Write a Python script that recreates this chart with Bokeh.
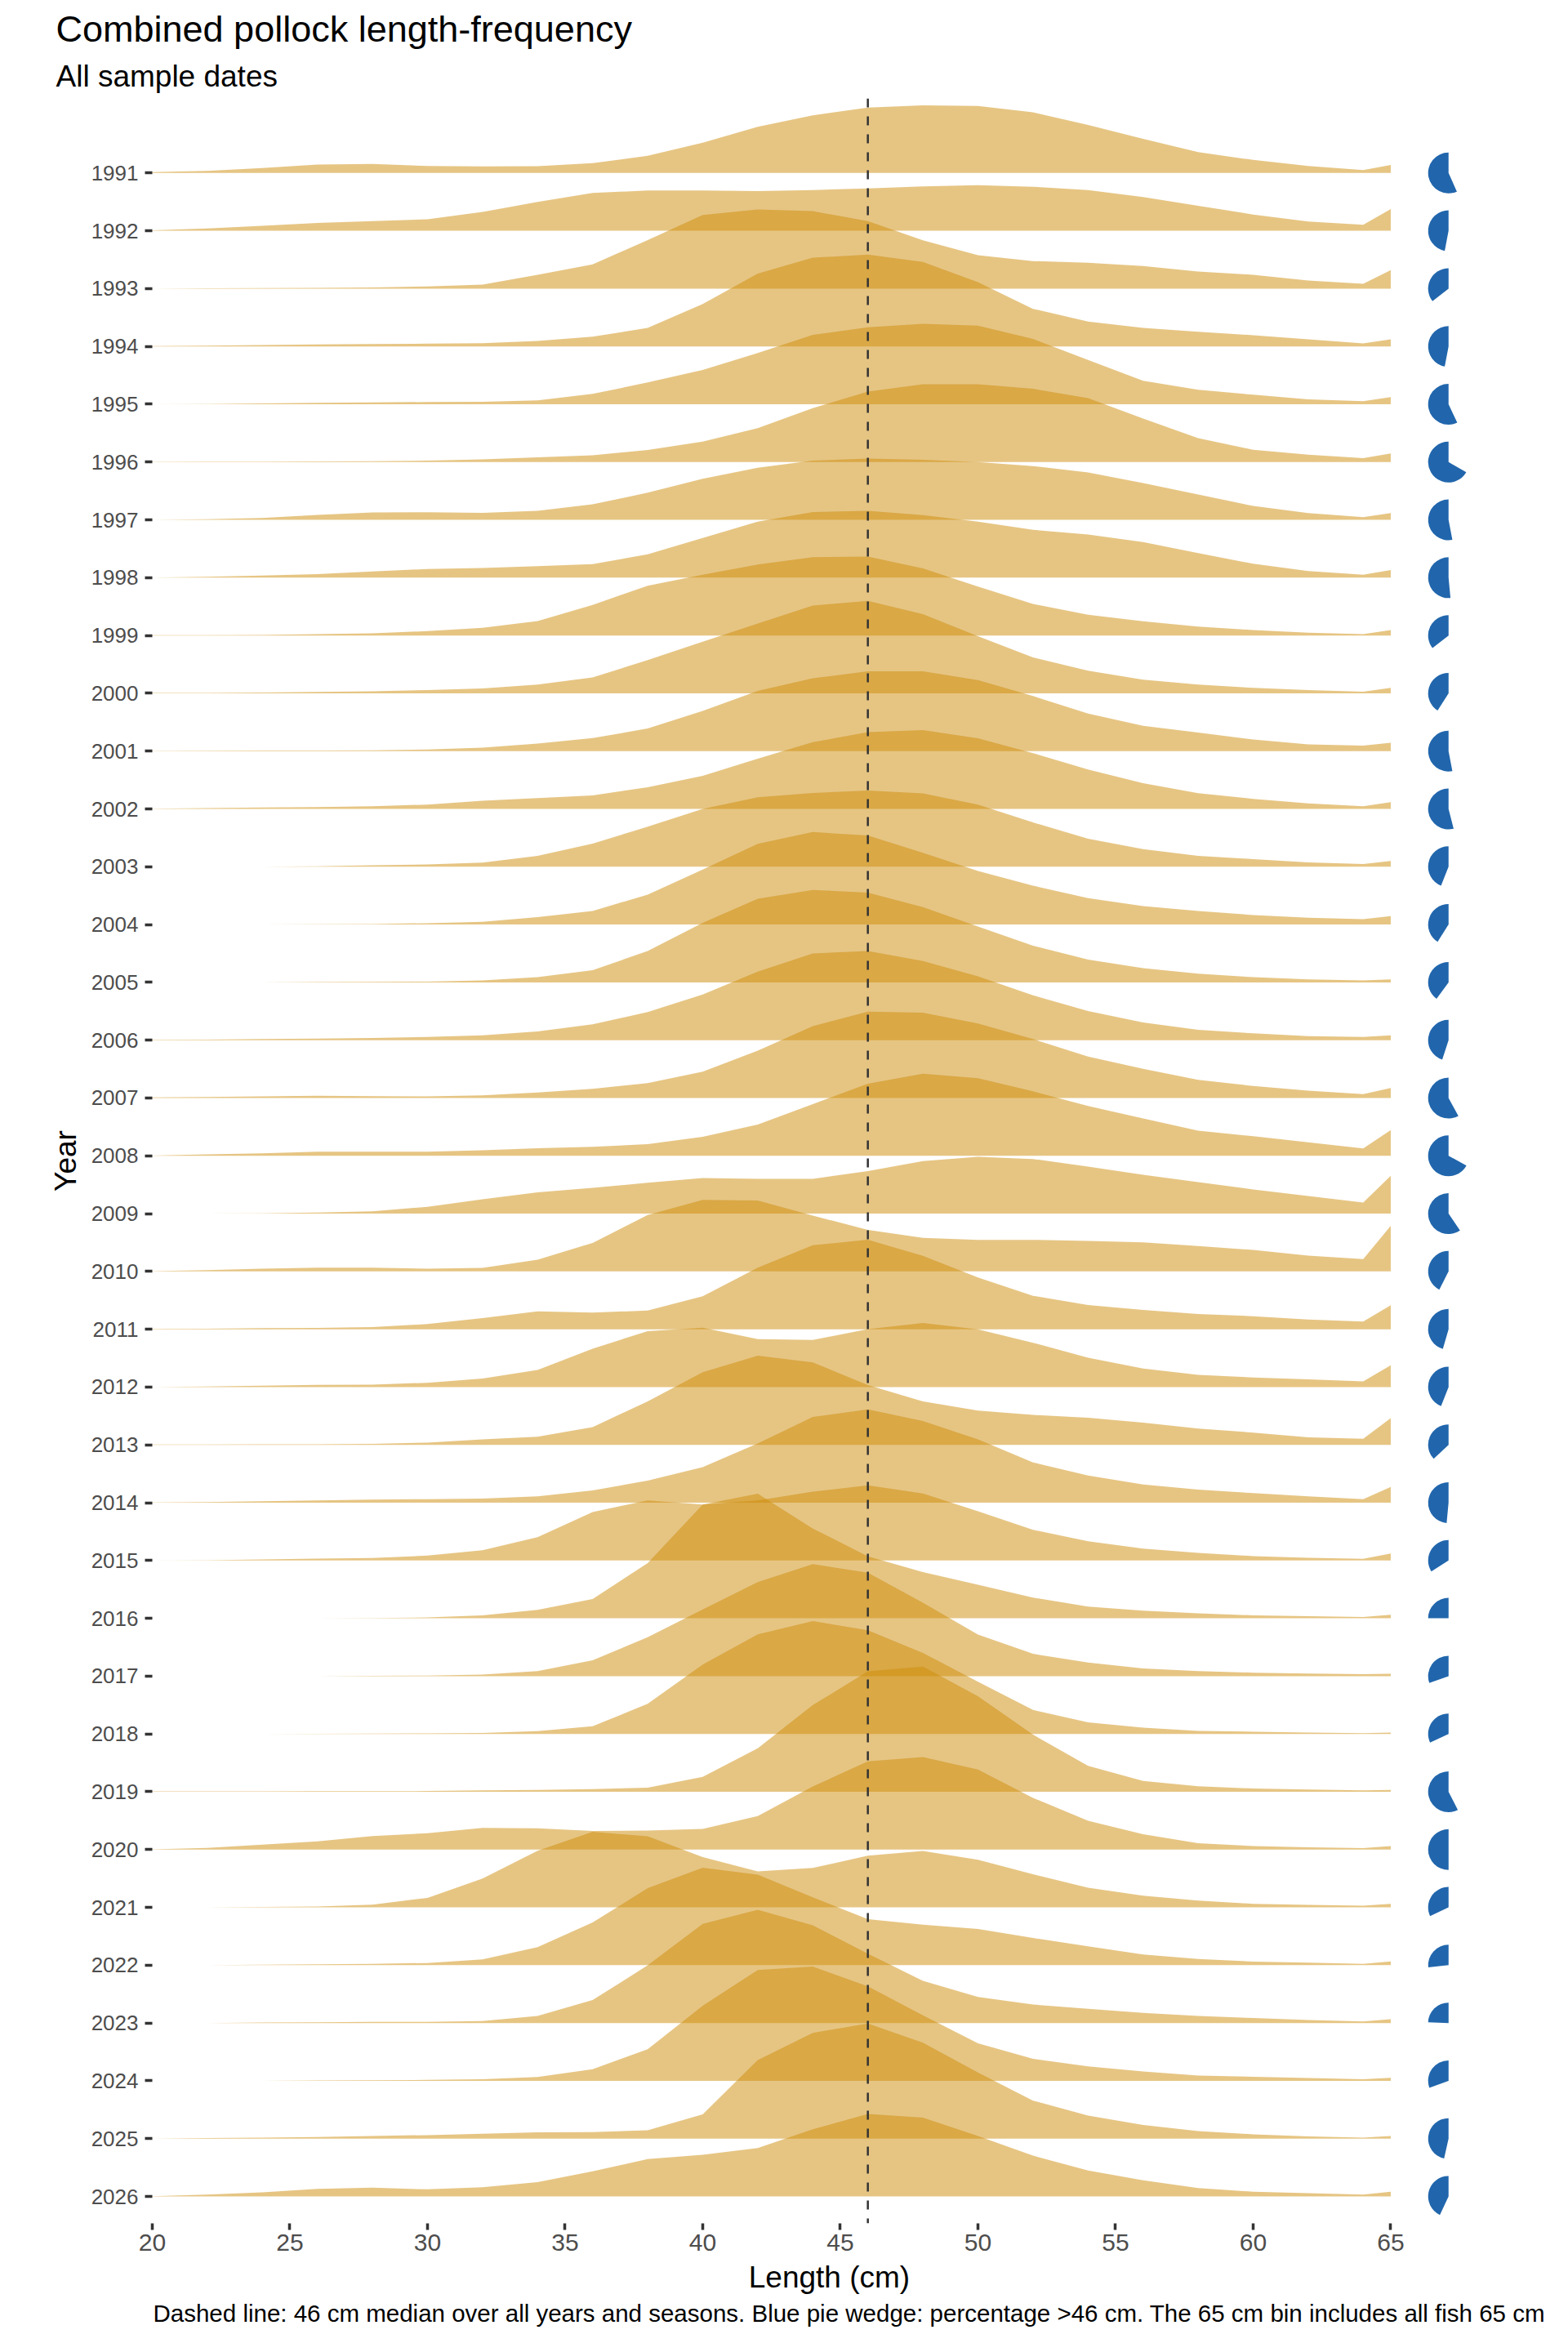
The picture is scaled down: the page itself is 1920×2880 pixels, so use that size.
import numpy as np
from bokeh.plotting import figure
from bokeh.models import Range1d, FixedTicker, Span, Title
from bokeh.embed import file_html
from bokeh.resources import INLINE

# Length bins (cm); the 65 cm bin includes all fish >= 65 cm
lengths = [20, 22, 24, 26, 28, 30, 32, 34, 36, 38, 40, 42, 44, 46, 48, 50, 52, 54, 56, 58, 60, 62, 64, 65]
years = list(range(1991, 2027))

# Ridge heights (scaled density, in row units) for each year
h1991 = [0.014, 0.038, 0.085, 0.146, 0.155, 0.122, 0.113, 0.118, 0.169, 0.296, 0.522, 0.80, 0.998, 1.13, 1.17, 1.16, 1.05, 0.83, 0.59, 0.36, 0.226, 0.122, 0.052, 0.14]
h1992 = [0.01, 0.042, 0.085, 0.136, 0.169, 0.198, 0.325, 0.50, 0.654, 0.696, 0.696, 0.687, 0.706, 0.734, 0.767, 0.79, 0.762, 0.706, 0.584, 0.433, 0.282, 0.16, 0.104, 0.377]
h1993 = [0.0, 0.005, 0.009, 0.014, 0.019, 0.038, 0.071, 0.24, 0.42, 0.838, 1.275, 1.369, 1.34, 1.167, 0.835, 0.579, 0.476, 0.447, 0.39, 0.296, 0.24, 0.141, 0.085, 0.32]
h1994 = [0.005, 0.014, 0.024, 0.033, 0.042, 0.047, 0.056, 0.094, 0.169, 0.32, 0.734, 1.261, 1.534, 1.59, 1.46, 1.11, 0.65, 0.43, 0.32, 0.254, 0.193, 0.122, 0.052, 0.122]
h1995 = [0.0, 0.005, 0.014, 0.024, 0.033, 0.038, 0.042, 0.066, 0.179, 0.376, 0.593, 0.885, 1.2, 1.33, 1.39, 1.36, 1.129, 0.767, 0.405, 0.249, 0.165, 0.085, 0.052, 0.122]
h1996 = [0.005, 0.007, 0.009, 0.012, 0.014, 0.024, 0.047, 0.08, 0.118, 0.207, 0.353, 0.588, 0.932, 1.22, 1.346, 1.346, 1.267, 1.106, 0.753, 0.414, 0.212, 0.127, 0.066, 0.15]
h1997 = [0.0, 0.01, 0.033, 0.085, 0.127, 0.132, 0.122, 0.155, 0.268, 0.47, 0.71, 0.90, 1.026, 1.059, 1.04, 1.0, 0.93, 0.82, 0.635, 0.44, 0.24, 0.118, 0.047, 0.118]
h1998 = [0.0, 0.014, 0.038, 0.061, 0.108, 0.15, 0.169, 0.198, 0.235, 0.405, 0.687, 0.969, 1.134, 1.158, 1.082, 0.969, 0.828, 0.748, 0.616, 0.424, 0.24, 0.113, 0.052, 0.132]
h1999 = [0.005, 0.007, 0.01, 0.024, 0.038, 0.075, 0.132, 0.25, 0.53, 0.86, 1.051, 1.226, 1.355, 1.365, 1.16, 0.847, 0.546, 0.358, 0.245, 0.155, 0.094, 0.047, 0.024, 0.094]
h2000 = [0.005, 0.007, 0.014, 0.024, 0.033, 0.056, 0.085, 0.15, 0.273, 0.576, 0.894, 1.207, 1.518, 1.60, 1.369, 0.988, 0.621, 0.391, 0.235, 0.15, 0.094, 0.056, 0.028, 0.094]
h2001 = [0.005, 0.007, 0.01, 0.012, 0.014, 0.028, 0.061, 0.132, 0.226, 0.39, 0.696, 1.04, 1.261, 1.379, 1.379, 1.228, 0.953, 0.649, 0.438, 0.32, 0.202, 0.118, 0.094, 0.146]
h2002 = [0.005, 0.014, 0.024, 0.033, 0.047, 0.075, 0.141, 0.188, 0.235, 0.376, 0.574, 0.868, 1.155, 1.327, 1.365, 1.224, 0.965, 0.682, 0.447, 0.273, 0.174, 0.094, 0.047, 0.118]
h2003 = [0.0, 0.0, 0.002, 0.007, 0.024, 0.038, 0.071, 0.188, 0.40, 0.692, 1.0, 1.20, 1.275, 1.318, 1.27, 1.073, 0.767, 0.485, 0.306, 0.188, 0.132, 0.075, 0.047, 0.099]
h2004 = [0.0, 0.0, 0.0, 0.005, 0.01, 0.024, 0.047, 0.127, 0.235, 0.518, 0.95, 1.398, 1.60, 1.54, 1.24, 0.927, 0.673, 0.456, 0.32, 0.235, 0.165, 0.118, 0.094, 0.146]
h2005 = [0.0, 0.0, 0.0, 0.005, 0.01, 0.014, 0.033, 0.089, 0.212, 0.541, 1.03, 1.445, 1.60, 1.553, 1.303, 0.965, 0.635, 0.395, 0.245, 0.15, 0.089, 0.052, 0.033, 0.052]
h2006 = [0.005, 0.01, 0.019, 0.028, 0.038, 0.056, 0.085, 0.15, 0.273, 0.485, 0.791, 1.186, 1.50, 1.544, 1.37, 1.106, 0.777, 0.503, 0.306, 0.179, 0.118, 0.071, 0.056, 0.085]
h2007 = [0.01, 0.019, 0.028, 0.038, 0.033, 0.028, 0.047, 0.094, 0.16, 0.259, 0.456, 0.819, 1.242, 1.492, 1.477, 1.29, 1.02, 0.715, 0.504, 0.315, 0.207, 0.127, 0.066, 0.174]
h2008 = [0.005, 0.024, 0.042, 0.071, 0.071, 0.071, 0.094, 0.132, 0.155, 0.20, 0.329, 0.541, 0.894, 1.247, 1.421, 1.341, 1.115, 0.861, 0.645, 0.433, 0.339, 0.235, 0.127, 0.447]
h2009 = [0.0, 0.0, 0.005, 0.019, 0.038, 0.118, 0.249, 0.367, 0.447, 0.533, 0.616, 0.60, 0.602, 0.734, 0.908, 0.983, 0.945, 0.814, 0.673, 0.546, 0.419, 0.306, 0.193, 0.654]
h2010 = [0.005, 0.024, 0.047, 0.066, 0.066, 0.047, 0.061, 0.202, 0.494, 0.977, 1.238, 1.228, 0.965, 0.72, 0.579, 0.546, 0.546, 0.527, 0.504, 0.438, 0.372, 0.273, 0.212, 0.79]
h2011 = [0.005, 0.01, 0.019, 0.024, 0.038, 0.089, 0.193, 0.311, 0.287, 0.325, 0.57, 1.064, 1.454, 1.548, 1.27, 0.894, 0.579, 0.42, 0.334, 0.264, 0.226, 0.169, 0.132, 0.414]
h2012 = [0.0, 0.009, 0.024, 0.038, 0.042, 0.075, 0.146, 0.296, 0.664, 0.967, 1.026, 0.828, 0.814, 1.002, 1.107, 0.998, 0.767, 0.508, 0.32, 0.212, 0.165, 0.132, 0.099, 0.376]
h2013 = [0.005, 0.005, 0.009, 0.012, 0.019, 0.038, 0.094, 0.141, 0.306, 0.753, 1.256, 1.543, 1.426, 1.035, 0.753, 0.593, 0.518, 0.471, 0.386, 0.282, 0.212, 0.132, 0.104, 0.461]
h2014 = [0.005, 0.01, 0.024, 0.038, 0.052, 0.061, 0.071, 0.108, 0.212, 0.381, 0.616, 1.026, 1.482, 1.614, 1.412, 1.096, 0.697, 0.471, 0.315, 0.226, 0.165, 0.108, 0.061, 0.273]
h2015 = [0.0, 0.005, 0.019, 0.033, 0.042, 0.085, 0.179, 0.405, 0.838, 1.04, 0.969, 1.04, 1.19, 1.30, 1.158, 0.852, 0.532, 0.334, 0.207, 0.132, 0.075, 0.047, 0.028, 0.122]
h2016 = [0.0, 0.0, 0.0, 0.0, 0.005, 0.014, 0.052, 0.146, 0.334, 0.955, 1.967, 2.155, 1.553, 1.073, 0.80, 0.579, 0.358, 0.202, 0.132, 0.085, 0.052, 0.038, 0.024, 0.061]
h2017 = [0.0, 0.0, 0.0, 0.0, 0.005, 0.009, 0.028, 0.085, 0.273, 0.673, 1.153, 1.628, 1.939, 1.788, 1.271, 0.72, 0.386, 0.235, 0.132, 0.085, 0.06, 0.045, 0.035, 0.04]
h2018 = [0.0, 0.0, 0.0, 0.002, 0.005, 0.009, 0.016, 0.047, 0.132, 0.52, 1.20, 1.722, 1.953, 1.793, 1.402, 0.904, 0.414, 0.20, 0.108, 0.052, 0.038, 0.024, 0.014, 0.024]
h2019 = [0.005, 0.005, 0.007, 0.009, 0.01, 0.012, 0.024, 0.033, 0.047, 0.071, 0.259, 0.753, 1.499, 2.084, 2.165, 1.652, 0.988, 0.447, 0.188, 0.094, 0.056, 0.038, 0.024, 0.033]
h2020 = [0.005, 0.028, 0.085, 0.141, 0.235, 0.282, 0.376, 0.367, 0.32, 0.329, 0.358, 0.579, 1.092, 1.525, 1.60, 1.384, 0.894, 0.499, 0.264, 0.108, 0.061, 0.038, 0.024, 0.061]
h2021 = [0.0, 0.0, 0.009, 0.014, 0.047, 0.165, 0.499, 0.979, 1.308, 1.228, 0.868, 0.622, 0.682, 0.894, 0.974, 0.823, 0.574, 0.339, 0.202, 0.118, 0.061, 0.042, 0.028, 0.061]
h2022 = [0.0, 0.0, 0.007, 0.014, 0.024, 0.038, 0.099, 0.311, 0.739, 1.331, 1.685, 1.567, 1.173, 0.795, 0.701, 0.626, 0.47, 0.325, 0.184, 0.108, 0.061, 0.042, 0.024, 0.066]
h2023 = [0.0, 0.0, 0.009, 0.012, 0.02, 0.019, 0.033, 0.122, 0.396, 0.998, 1.713, 1.96, 1.69, 1.20, 0.729, 0.452, 0.32, 0.245, 0.174, 0.122, 0.085, 0.052, 0.028, 0.066]
h2024 = [0.0, 0.0, 0.0, 0.005, 0.009, 0.016, 0.028, 0.066, 0.202, 0.546, 1.299, 1.917, 1.976, 1.633, 1.134, 0.649, 0.381, 0.25, 0.16, 0.09, 0.07, 0.05, 0.028, 0.052]
h2025 = [0.0, 0.01, 0.019, 0.028, 0.047, 0.061, 0.085, 0.108, 0.113, 0.146, 0.42, 1.36, 1.83, 1.99, 1.658, 1.144, 0.658, 0.40, 0.235, 0.132, 0.075, 0.038, 0.019, 0.047]
h2026 = [0.005, 0.033, 0.071, 0.132, 0.151, 0.122, 0.16, 0.249, 0.433, 0.647, 0.72, 0.838, 1.162, 1.426, 1.365, 1.045, 0.706, 0.447, 0.28, 0.146, 0.08, 0.056, 0.033, 0.08]

# Percentage of fish > 46 cm per year (blue pie wedge)
pct_over_46 = [56.7, 47, 35.6, 47, 57, 66.7, 53, 51.5, 35.6, 41, 53, 54, 44, 41, 40, 45, 58, 67,
               59.5, 42.5, 45.5, 44, 37, 48.5, 34, 25, 30.5, 32, 57.5, 50, 32, 26.7, 24.5, 30.5, 46.5, 43]

median_len = 46
x_ticks = [20, 25, 30, 35, 40, 45, 50, 55, 60, 65]

ridges = [h1991, h1992, h1993, h1994, h1995, h1996, h1997, h1998, h1999, h2000, h2001, h2002,
          h2003, h2004, h2005, h2006, h2007, h2008, h2009, h2010, h2011, h2012, h2013, h2014,
          h2015, h2016, h2017, h2018, h2019, h2020, h2021, h2022, h2023, h2024, h2025, h2026]

FONT = "Liberation Sans"
FILL = "#CD8B07"
X_MIN, X_MAX = 20, 69.2
PX_PER_CM = 33.7
FW = int(round((X_MAX - X_MIN) * PX_PER_CM))
FH = 2602
LEFT = 186
TOTAL_W = 1904
n = len(years)

p = figure(frame_width=FW, frame_height=FH,
           x_range=Range1d(X_MIN, X_MAX), y_range=Range1d(-0.466, n - 1 + 1.29),
           output_backend="svg", toolbar_location=None, title=None,
           min_border_left=LEFT, min_border_right=TOTAL_W - LEFT - FW, min_border_top=120,
           min_border_bottom=10)
p.background_fill_color = "white"
p.border_fill_color = "white"
p.outline_line_color = None
p.grid.visible = False

x = np.array(lengths, dtype=float)
for k, (yr, h) in enumerate(zip(years, ridges)):
    base = float(n - 1 - k)
    hh = np.array(h, dtype=float)
    p.varea(x=x, y1=np.full_like(x, base), y2=base + hh, fill_color=FILL, fill_alpha=0.5)

# median line
p.add_layout(Span(location=median_len, dimension="height", line_color="#333333",
                  line_dash="11 11", line_width=2.5))

# pie wedges
ybase = [float(n - 1 - k) for k in range(n)]
ends = [np.pi / 2 + 2 * np.pi * v / 100.0 for v in pct_over_46]
p.wedge(x=[67.1] * n, y=ybase, radius=25, radius_units="screen",
        start_angle=[np.pi / 2] * n, end_angle=ends, direction="anticlock",
        fill_color="#2166AC", line_color=None)

# axes
p.xaxis.ticker = FixedTicker(ticks=x_ticks)
p.xaxis.axis_label = "Length (cm)"
p.yaxis.ticker = FixedTicker(ticks=list(range(n)))
p.yaxis.major_label_overrides = {n - 1 - k: str(yr) for k, yr in enumerate(years)}
p.yaxis.axis_label = "Year"
for ax in (p.xaxis[0], p.yaxis[0]):
    ax.axis_line_color = None
    ax.major_tick_in = 0
    ax.minor_tick_line_color = None
    ax.major_tick_line_color = "#333333"
    ax.major_tick_line_width = 3.5
    ax.major_label_text_font = FONT
    ax.major_label_text_color = "#4D4D4D"
    ax.axis_label_text_font = FONT
    ax.axis_label_text_font_style = "normal"
    ax.axis_label_text_color = "black"
    ax.axis_label_text_font_size = "37px"
p.xaxis.major_tick_out = 8
p.xaxis.major_label_text_font_size = "30px"
p.xaxis.major_label_standoff = 5
p.xaxis.axis_label_standoff = 9
p.yaxis.major_tick_out = 9
p.yaxis.major_label_text_font_size = "26px"
p.yaxis.major_label_standoff = 8
p.yaxis.axis_label_standoff = 8

# titles and caption
p.add_layout(Title(text="All sample dates", align="left", offset=-118, standoff=14,
                   text_font=FONT, text_font_size="37px", text_font_style="normal",
                   text_color="black"), "above")
p.add_layout(Title(text="Combined pollock length-frequency", align="left", offset=-118, standoff=6,
                   text_font=FONT, text_font_size="45px", text_font_style="normal",
                   text_color="black"), "above")
p.add_layout(Title(text="Dashed line: 46 cm median over all years and seasons. Blue pie wedge: "
                        "percentage >46 cm. The 65 cm bin includes all fish 65 cm",
                   align="left", offset=1, standoff=4,
                   text_font=FONT, text_font_size="29.5px", text_font_style="normal",
                   text_color="black"), "below")

open("out.html", "w").write(file_html(p, INLINE))
